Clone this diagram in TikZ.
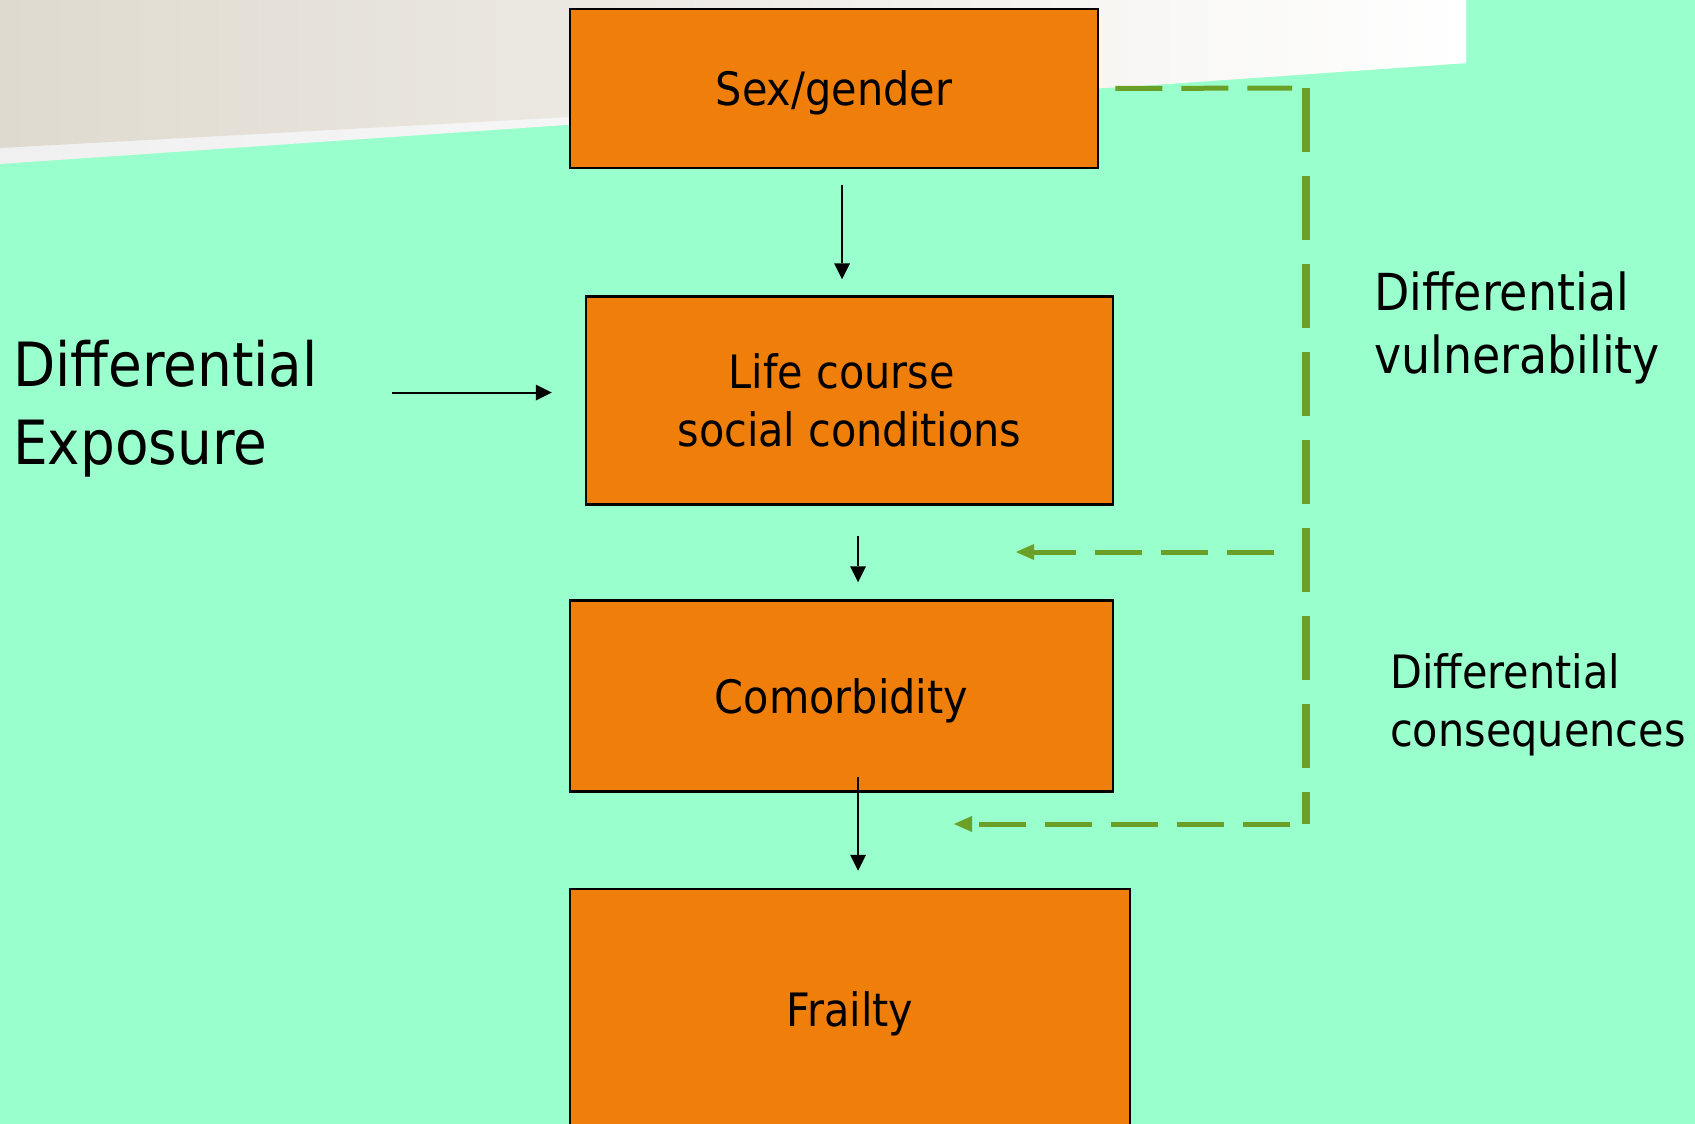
\documentclass[tikz,border=0pt]{standalone}
\usepackage{fontspec}
\setmainfont{DejaVu Sans Condensed}
\usetikzlibrary{positioning,arrows.meta,calc}

\definecolor{slidegreen}{RGB}{153,255,204}
\definecolor{boxorange}{RGB}{239,127,10}
\definecolor{dashgreen}{RGB}{107,160,40}
\definecolor{sandbeige}{RGB}{223,218,207}
\definecolor{bandgray}{RGB}{240,240,240}

\begin{document}
\begin{tikzpicture}[x=1pt,y=-1pt,
  stage/.style={draw=black, line width=2.5pt, fill=boxorange, inner sep=0pt, align=center, font=\fontsize{46}{58}\selectfont},
  flow/.style={-{Triangle[length=16pt,width=16pt,line width=0pt]}, line width=2pt},
  feedback/.style={draw=dashgreen, line width=5pt, dash pattern=on 47pt off 19pt},
  feedbackarrow/.style={feedback, -{Triangle[length=18pt,width=16pt,line width=0pt]}},
  spine/.style={draw=dashgreen, line width=8pt, dash pattern=on 64pt off 24pt},
  sidenote/.style={inner sep=0pt, align=left, anchor=west}
  ]
  \useasboundingbox (0,0) rectangle (1695,1124);
  \clip (0,0) rectangle (1695,1124);

  \fill[slidegreen] (0,0) rectangle (1695,1124);
  \shade[left color=bandgray, right color=white] (0,0) -- (1466,0) -- (1466,63) -- (0,164) -- cycle;
  \shade[left color=sandbeige, right color=white] (0,0) -- (1466,0) -- (1466,63) -- (1140,86) -- (0,148) -- cycle;

  \node[stage, minimum width=528pt, minimum height=159pt] (sex) at (834,88.5) {\raisebox{-4pt}[\height][\depth]{Sex/gender}};
  \node[stage, minimum width=527pt, minimum height=208pt, below=126pt of sex, xshift=15.5pt] (life) {Life course\hspace*{0.33em}\\social conditions};
  \node[stage, minimum width=543pt, minimum height=191pt, below=93.5pt of life, xshift=-8pt] (comorb) {\raisebox{-5pt}[\height][\depth]{Comorbidity}};
  \node[stage, minimum width=560pt, minimum height=244pt, below=95pt of comorb, xshift=8.5pt] (frail) {\raisebox{-3pt}[\height][\depth]{Frailty}};

  \node[sidenote, font=\fontsize{61}{78}\selectfont] (expo) at (13,409) {Differential\\Exposure};
  \node[sidenote, font=\fontsize{51}{63}\selectfont] (vuln) at (1374,328) {Differential\\vulnerability};
  \node[sidenote, font=\fontsize{46}{58}\selectfont] (conseq) at (1390,705) {Differential\\consequences};

  \draw[flow] ([shift={(8pt,-16pt)}]sex.south) -- ([shift={(-7.5pt,16pt)}]life.north);
  \draw[flow] ([shift={(-193pt,8pt)}]life.west) -- ([shift={(-33pt,8pt)}]life.west);
  \draw[flow] ([shift={(8.5pt,-30pt)}]life.south) -- ([shift={(16.5pt,17pt)}]comorb.north);
  \draw[flow] ([shift={(16.5pt,16pt)}]comorb.south) -- ([shift={(8pt,17pt)}]frail.north);

  \coordinate (spinetop) at (1306,88);
  \coordinate (spinebot) at (1306,824);
  \coordinate (midtap) at (1274,552);
  \coordinate (vulnin) at (1016,552);
  \coordinate (conseqin) at (954,824);

  \draw[feedback] ([xshift=16pt]sex.east) -- ([xshift=-14pt]spinetop);
  \draw[spine] (spinetop) -- (spinebot);
  \draw[feedbackarrow] (midtap) -- (vulnin);
  \draw[feedbackarrow] ([xshift=-16pt]spinebot) -- (conseqin);
\end{tikzpicture}
\end{document}
